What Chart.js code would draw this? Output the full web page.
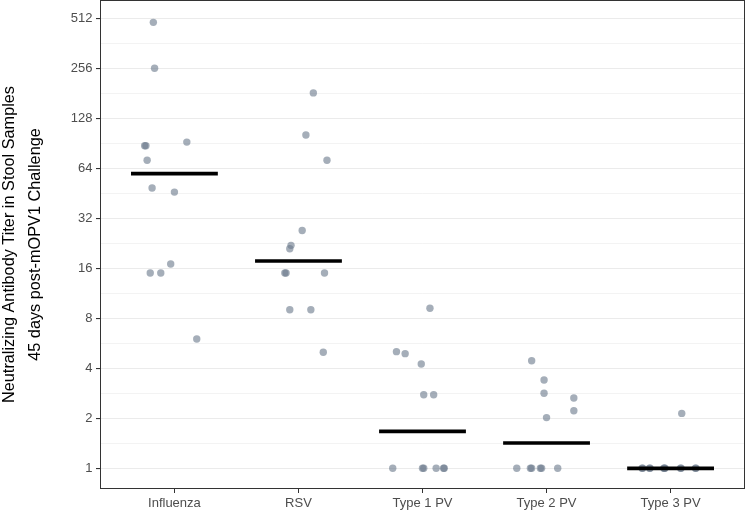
<!DOCTYPE html>
<html>
<head>
<meta charset="utf-8">
<script src="https://cdn.jsdelivr.net/npm/chart.js@4/dist/chart.umd.min.js"></script>
<style>
  html, body { margin: 0; padding: 0; background: #ffffff; }
  #wrap { width: 746px; height: 511px; position: relative; }
</style>
</head>
<body>
<div id="wrap"><canvas id="c" width="746" height="511"></canvas></div>
<script>
// ---------------- data ----------------
const categories = ['Influenza', 'RSV', 'Type 1 PV', 'Type 2 PV', 'Type 3 PV'];

// titers, with the horizontal jitter (in category units) each point shows
const influenzaTiters = [484, 256, 87.5, 87.5, 92, 71.5, 48.7, 46, 15, 15, 17, 6];
const influenzaJitter = [-0.17, -0.16, -0.23, -0.24, 0.10, -0.22, -0.18, 0.00, -0.195, -0.11, -0.03, 0.18];

const rsvTiters = [182, 101.5, 71.5, 27, 22, 21, 15, 15, 15, 9, 9, 5];
const rsvJitter = [0.12, 0.06, 0.23, 0.03, -0.06, -0.07, -0.10, -0.11, 0.21, -0.07, 0.10, 0.20];

const type1Titers = [9.2, 5.04, 4.9, 4.25, 2.77, 2.77, 1, 1, 1, 1, 1, 1];
const type1Jitter = [0.06, -0.21, -0.14, -0.01, 0.01, 0.09, -0.24, 0.00, 0.01, 0.11, 0.17, 0.175];

const type2Titers = [4.44, 3.4, 2.83, 2.65, 2.22, 2.02, 1, 1, 1, 1, 1, 1];
const type2Jitter = [-0.12, -0.02, -0.02, 0.22, 0.22, 0.00, -0.24, -0.13, -0.12, -0.05, -0.04, 0.09];

const type3Titers = [2.14, 1, 1, 1, 1, 1, 1, 1, 1, 1, 1, 1];
const type3Jitter = [0.09, -0.23, -0.225, -0.17, -0.165, -0.05, -0.045, -0.055, 0.08, 0.085, 0.20, 0.205];

// median (on log2 scale) per group
const groupMedians = [59.4, 17.7, 1.67, 1.42, 1];

const yTickValues = [1, 2, 4, 8, 16, 32, 64, 128, 256, 512];

// ---------------- build ----------------
const groups = [
  [influenzaTiters, influenzaJitter],
  [rsvTiters, rsvJitter],
  [type1Titers, type1Jitter],
  [type2Titers, type2Jitter],
  [type3Titers, type3Jitter]
];
const pointData = [];
groups.forEach((g, i) => {
  g[0].forEach((v, j) => pointData.push({ x: i + 1 + g[1][j], y: v }));
});

const BAR_HALF = 0.35;
const barDatasets = groupMedians.map((m, i) => ({
  type: 'line',
  data: [{ x: i + 1 - BAR_HALF, y: m }, { x: i + 1 + BAR_HALF, y: m }],
  borderColor: '#000000',
  borderWidth: 3.7,
  borderCapStyle: 'butt',
  pointRadius: 0,
  fill: false,
  order: 0
}));

const FONT = "'Liberation Sans', Arial, sans-serif";
const yMin = Math.pow(2, -0.414);
const yMax = Math.pow(2, 9.366);

// major + minor gridline values
const minorVals = [];
for (let k = 0; k < yTickValues.length - 1; k++) minorVals.push(Math.sqrt(yTickValues[k] * yTickValues[k + 1]));
const isMajor = v => yTickValues.some(t => Math.abs(t - v) < 1e-9);

const borderPlugin = {
  id: 'panelBorder',
  afterDraw(chart) {
    const a = chart.chartArea, ctx = chart.ctx;
    ctx.save();
    ctx.strokeStyle = '#333333';
    ctx.lineWidth = 1;
    ctx.strokeRect(a.left + 0.5, a.top + 0.5, a.right - a.left - 1, a.bottom - a.top - 1);
    ctx.restore();
  }
};

new Chart(document.getElementById('c'), {
  type: 'scatter',
  data: {
    datasets: [
      ...barDatasets,
      {
        type: 'scatter',
        data: pointData,
        backgroundColor: 'rgba(105,120,138,0.6)',
        borderWidth: 0,
        pointRadius: 3.7,
        pointHoverRadius: 3.7,
        order: 1
      }
    ]
  },
  options: {
    responsive: false,
    animation: false,
    events: [],
    layout: { autoPadding: false, padding: { top: 0, right: 1, bottom: 0, left: 0 } },
    plugins: { legend: { display: false }, tooltip: { enabled: false }, title: { display: false } },
    scales: {
      x: {
        type: 'linear',
        min: 0.4,
        max: 5.6,
        afterBuildTicks: s => { s.ticks = categories.map((c, i) => ({ value: i + 1 })); },
        afterFit: s => { s.height = 22; s.paddingLeft = 0; s.paddingRight = 0; s.paddingTop = 0; s.paddingBottom = 0; },
        ticks: {
          callback: v => categories[Math.round(v) - 1] || '',
          color: '#4d4d4d',
          font: { family: FONT, size: 13 },
          padding: 3,
          maxRotation: 0,
          autoSkip: false
        },
        grid: { display: true, drawOnChartArea: false, drawTicks: true, tickLength: 4, tickColor: '#333333', lineWidth: 1 },
        border: { display: false }
      },
      y: {
        type: 'logarithmic',
        min: yMin,
        max: yMax,
        afterBuildTicks: s => {
          const all = yTickValues.concat(minorVals).sort((a, b) => a - b);
          s.ticks = all.map(v => ({ value: v }));
        },
        afterFit: s => { s.width = 100; s.paddingTop = 0; s.paddingBottom = 0; s.paddingLeft = 0; s.paddingRight = 0; },
        ticks: {
          callback: v => (isMajor(v) ? String(Math.round(v)) : ''),
          color: '#4d4d4d',
          font: { family: FONT, size: 13 },
          padding: 3.5,
          autoSkip: false
        },
        grid: {
          drawTicks: true,
          tickLength: 4,
          color: ctx => (ctx.tick && isMajor(ctx.tick.value) ? '#ebebeb' : '#f2f2f2'),
          lineWidth: ctx => (ctx.tick && isMajor(ctx.tick.value) ? 1.1 : 0.9),
          tickColor: ctx => (ctx.tick && isMajor(ctx.tick.value) ? '#333333' : 'rgba(0,0,0,0)')
        },
        border: { display: false },
        title: {
          display: true,
          text: ['Neutralizing Antibody Titer in Stool Samples', '45 days post-mOPV1 Challenge'],
          color: '#000000',
          font: { family: FONT, size: 16.3, lineHeight: 1.626 },
          padding: { top: -3.75, bottom: 0 }
        }
      }
    }
  },
  plugins: [borderPlugin]
});
</script>
</body>
</html>
